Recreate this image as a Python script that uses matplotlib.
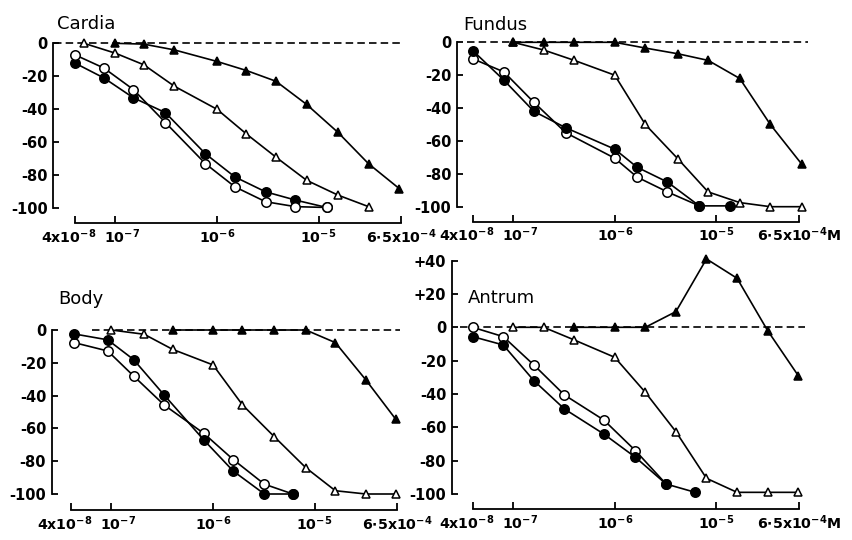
import numpy as np
import matplotlib
matplotlib.use('Agg')
import matplotlib.pyplot as plt
from matplotlib.ticker import NullLocator
from matplotlib.transforms import ScaledTranslation

# ── data (concentration in M, response in %) ───────────────────────────────
cardia_circ_x = [4e-8, 7.7e-8, 1.5e-7, 3.1e-7, 7.7e-7, 1.5e-6, 3.0e-6, 5.9e-6, 1.2e-5]
cardia_open_circ = [-7, -15, -28, -48, -73, -87, -96, -99, -99.5]
cardia_fill_circ = [-12, -21, -33, -42, -67, -81, -90, -95, -99.5]
cardia_open_tri_x = [4.9e-8, 1e-7, 1.9e-7, 3.8e-7, 1e-6, 1.95e-6, 3.8e-6, 7.6e-6, 1.55e-5, 3.1e-5]
cardia_open_tri = [0, -6, -13, -26, -40, -55, -69, -83, -92, -99]
cardia_fill_tri_x = [1e-7, 1.9e-7, 3.8e-7, 1e-6, 1.95e-6, 3.8e-6, 7.6e-6, 1.55e-5, 3.1e-5, 6.2e-5]
cardia_fill_tri = [0, -0.5, -4, -11, -16.5, -23, -37, -54, -73, -88]

fundus_circ_x = [4e-8, 8.1e-8, 1.6e-7, 3.3e-7, 1.0e-6, 1.66e-6, 3.3e-6, 6.8e-6, 1.35e-5]
fundus_open_circ = [-10, -18, -36.5, -55, -70.5, -82, -91, -99.5]
fundus_fill_circ = [-5, -23, -42, -52, -65, -76, -85, -99.5, -99.5]
fundus_tri_x = [1e-7, 2e-7, 4e-7, 1e-6, 2e-6, 4.2e-6, 8.3e-6, 1.7e-5, 3.4e-5, 6.9e-5]
fundus_open_tri = [0, -4.7, -11, -20, -50, -71, -91, -97.5, -100, -100]
fundus_fill_tri = [0, 0, 0, 0, -3.5, -7, -11, -22, -50, -74]

body_circ_x = [4.3e-8, 9.2e-8, 1.65e-7, 3.3e-7, 8.1e-7, 1.58e-6, 3.2e-6, 6.1e-6]
body_open_circ = [-7.7, -12.8, -28, -45.7, -63, -79, -94, -100]
body_fill_circ = [-2.4, -6, -18, -39.6, -67, -86, -100, -100]
body_open_tri_x = [1e-7, 2.1e-7, 4e-7, 1e-6, 1.95e-6, 4e-6, 8.2e-6, 1.6e-5, 3.2e-5, 6.3e-5]
body_open_tri = [0, -2.6, -11.8, -21.3, -45.7, -65, -84, -98, -100, -100]
body_fill_tri_x = [4e-7, 1e-6, 1.95e-6, 4e-6, 8.2e-6, 1.6e-5, 3.2e-5, 6.3e-5]
body_fill_tri = [0, 0, 0, 0, 0, -7.7, -30.5, -54.5]

antrum_circ_x = [4e-8, 8e-8, 1.6e-7, 3.2e-7, 7.8e-7, 1.6e-6, 3.2e-6, 6.2e-6]
antrum_open_circ = [0, -5.6, -22.6, -40.6, -55.6, -74, -94]
antrum_fill_circ = [-5.6, -10.6, -32, -49, -64, -78, -94, -99]
antrum_open_tri_x = [1e-7, 2e-7, 4e-7, 1e-6, 2e-6, 4e-6, 8e-6, 1.6e-5, 3.2e-5, 6.4e-5]
antrum_open_tri = [0, 0, -7.6, -18, -39, -62.6, -90.6, -99, -99, -99]
antrum_fill_tri_x = [4e-7, 1e-6, 2e-6, 4e-6, 8e-6, 1.6e-5, 3.2e-5, 6.4e-5]
antrum_fill_tri = [0, 0, 0, 9.4, 41, 29.4, -2, -29]

x_ticks = [4e-8, 1e-7, 1e-6, 1e-5, 6.5e-5]
x_labels_left = [r'$\mathbf{4x10^{-8}}$', r'$\mathbf{10^{-7}}$', r'$\mathbf{10^{-6}}$',
                 r'$\mathbf{10^{-5}}$', r'$\mathbf{6{\cdot}5x10^{-4}}$']
x_labels_right = x_labels_left[:4] + [r'$\mathbf{6{\cdot}5x10^{-4}M}$']

W, H = 853, 540
DECADE = 101.6
X_RIGHT = 8.5e-5


def add_panel(fig, spine_px, tick_px, y0_px, y100_px, xspine_px, ytop):
    # place axes so that the data land where they do in the source figure
    xl = 10 ** (np.log10(4e-8) - (tick_px - spine_px) / DECADE)
    width_px = (np.log10(X_RIGHT) - np.log10(xl)) * DECADE
    per_unit = (y100_px - y0_px) / 100
    ybot = -100 - (xspine_px - y100_px) / per_unit
    top_px = y0_px - ytop * per_unit
    ax = fig.add_axes([spine_px / W, 1 - xspine_px / H, width_px / W, (xspine_px - top_px) / H])
    ax.set_xscale('log')
    ax.set_xlim(xl, X_RIGHT)
    ax.set_ylim(ybot, ytop)
    ax.patch.set_visible(False)
    for s in ('top', 'right'):
        ax.spines[s].set_visible(False)
    for s in ('left', 'bottom'):
        ax.spines[s].set_linewidth(1.3)
    ax.spines['bottom'].set_bounds(x_ticks[0], x_ticks[-1])
    ax.xaxis.set_minor_locator(NullLocator())
    ax.tick_params(axis='x', direction='in', length=5, width=1.3, pad=3, labelsize=10.2)
    ax.tick_params(axis='y', direction='in', length=4, width=1.3, pad=4)
    return ax


def draw(ax, series, baseline):
    ax.plot(baseline, [0, 0], color='black', lw=1.2, linestyle=(0, (4.5, 2.5)), zorder=1)
    for x, y, marker, face, z in series:
        ax.plot(x, y, color='black', lw=1.2, marker=marker, markersize=6.8 if marker == 'o' else 6,
                markerfacecolor=face, markeredgecolor='black', markeredgewidth=1.1, zorder=z)


def y_axis(ax, top):
    ticks = list(range(top, -101, -20))
    labels = [('+%d' % t) if t > 0 else str(t) for t in ticks]
    ax.set_yticks(ticks)
    ax.set_yticklabels(labels, fontsize=10.5, fontweight='bold')
    ax.spines['left'].set_bounds(-100, top)


def x_axis(ax, labels):
    ax.set_xticks(x_ticks)
    ax.set_xticklabels(labels)
    # the first two labels sit shoulder to shoulder in the original
    shifts = [-6, 7, 0, 0, 0]
    for lab, dx in zip(ax.get_xticklabels(), shifts):
        if dx:
            lab.set_transform(lab.get_transform() + ScaledTranslation(dx / 100, 0, fig.dpi_scale_trans))


fig = plt.figure(figsize=(W / 100, H / 100), dpi=100)

# ── Cardia ─────────────────────────────────────────────────────────────────
ax = add_panel(fig, 53.4, 75, 43.3, 208.3, 223, 4)
draw(ax, [
    (cardia_circ_x, cardia_fill_circ, 'o', 'black', 3),
    (cardia_circ_x, cardia_open_circ, 'o', 'white', 4),
    (cardia_open_tri_x, cardia_open_tri, '^', 'white', 3),
    (cardia_fill_tri_x, cardia_fill_tri, '^', 'black', 3),
], [2.5e-8, 6.5e-5])
y_axis(ax, 0)
x_axis(ax, x_labels_left)

# ── Fundus ─────────────────────────────────────────────────────────────────
ax = add_panel(fig, 457, 472.7, 42.3, 206.7, 221.7, 4)
draw(ax, [
    (fundus_circ_x[:len(fundus_open_circ)], fundus_open_circ, 'o', 'white', 3),
    (fundus_circ_x, fundus_fill_circ, 'o', 'black', 4),
    (fundus_tri_x, fundus_open_tri, '^', 'white', 3),
    (fundus_tri_x, fundus_fill_tri, '^', 'black', 3),
], [3.5e-8, 8e-5])
y_axis(ax, 0)
x_axis(ax, x_labels_right)

# ── Body ───────────────────────────────────────────────────────────────────
ax = add_panel(fig, 51.7, 71, 330, 494, 510, 4)
draw(ax, [
    (body_circ_x, body_open_circ, 'o', 'white', 3),
    (body_circ_x, body_fill_circ, 'o', 'black', 4),
    (body_open_tri_x, body_open_tri, '^', 'white', 3),
    (body_fill_tri_x, body_fill_tri, '^', 'black', 3),
], [6.4e-8, 7e-5])
y_axis(ax, 0)
x_axis(ax, x_labels_left)

# ── Antrum ─────────────────────────────────────────────────────────────────
ax = add_panel(fig, 451.7, 472.7, 327.3, 494, 509.3, 44)
draw(ax, [
    (antrum_circ_x[:len(antrum_open_circ)], antrum_open_circ, 'o', 'white', 3),
    (antrum_circ_x, antrum_fill_circ, 'o', 'black', 4),
    (antrum_open_tri_x, antrum_open_tri, '^', 'white', 3),
    (antrum_fill_tri_x, antrum_fill_tri, '^', 'black', 3),
], [3e-8, 7.5e-5])
y_axis(ax, 40)
x_axis(ax, x_labels_right)

# panel titles
for name, px, py in [('Cardia', 57, 24), ('Fundus', 463, 25), ('Body', 58, 299), ('Antrum', 468, 298)]:
    fig.text(px / W, 1 - py / H, name, fontsize=13, va='center', ha='left')

fig.savefig('out.png', dpi=100)
